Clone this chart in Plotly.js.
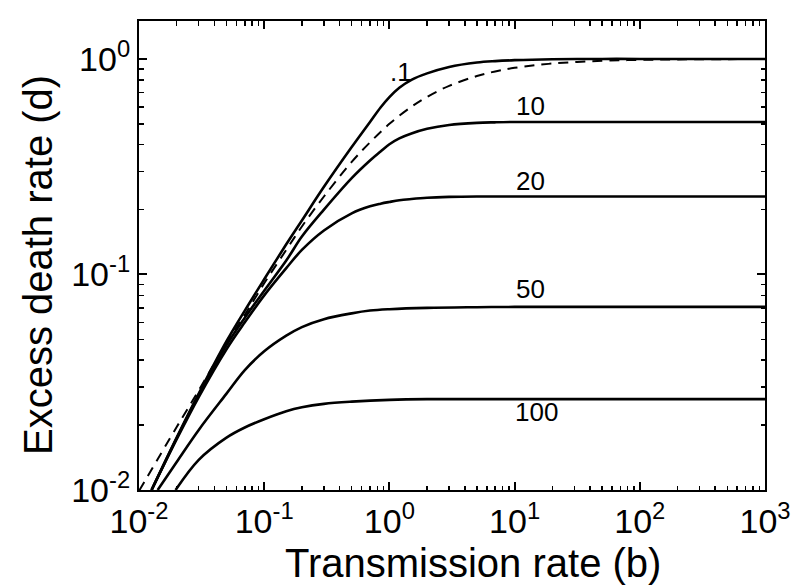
<!DOCTYPE html>
<html>
<head>
<meta charset="utf-8">
<script src="https://cdn.plot.ly/plotly-3.0.1.min.js"></script>
<style>html,body{margin:0;padding:0;background:#fff;}#chart{width:800px;height:588px;}</style>
</head>
<body>
<div id="chart"></div>
<script>
// Transmission rate b (x) and excess death rate d (y)
const bDashed = [0.01, 0.02, 0.03, 0.05, 0.07, 0.1, 0.15, 0.2, 0.3, 0.5, 0.7, 1, 1.5, 2, 3, 5, 7, 10, 20, 50, 100, 200, 1000];
const dDashed = [0.0099, 0.0196, 0.029, 0.048, 0.065, 0.091, 0.13, 0.167, 0.23, 0.333, 0.41, 0.5, 0.6, 0.667, 0.75, 0.833, 0.875, 0.909, 0.952, 0.98, 0.99, 0.995, 0.999];

const bSolid = [0.0126, 0.02, 0.03, 0.05, 0.07, 0.1, 0.15, 0.2, 0.3, 0.5, 0.7, 0.85, 1, 1.2, 1.5, 2, 3, 5, 7, 10, 20, 50, 100, 1000];
const dP01  = [0.01, 0.0175, 0.028, 0.049, 0.068, 0.095, 0.138, 0.178, 0.255, 0.39, 0.51, 0.595, 0.665, 0.735, 0.80, 0.857, 0.918, 0.962, 0.977, 0.987, 0.997, 1.0, 1.0, 1.0];
const dP10  = [0.01, 0.0174, 0.0277, 0.047, 0.063, 0.084, 0.116, 0.15, 0.2, 0.28, 0.338, 0.372, 0.402, 0.428, 0.451, 0.474, 0.494, 0.505, 0.508, 0.51, 0.51, 0.51, 0.51, 0.51];
const dP20  = [0.01, 0.0172, 0.027, 0.045, 0.06, 0.08, 0.107, 0.13, 0.16, 0.192, 0.207, 0.213, 0.217, 0.221, 0.224, 0.227, 0.229, 0.23, 0.23, 0.23, 0.23, 0.23, 0.23, 0.23];
const b50   = [0.0141, 0.02, 0.03, 0.05, 0.07, 0.1, 0.15, 0.2, 0.3, 0.5, 0.7, 1, 2, 5, 10, 100, 1000];
const dP50  = [0.01, 0.0135, 0.019, 0.028, 0.036, 0.044, 0.052, 0.057, 0.062, 0.066, 0.068, 0.069, 0.070, 0.0705, 0.0707, 0.0707, 0.0707];
const b100  = [0.0196, 0.03, 0.05, 0.07, 0.1, 0.15, 0.2, 0.3, 0.5, 1, 2, 10, 100, 1000];
const dP100 = [0.01, 0.0138, 0.0175, 0.0195, 0.0213, 0.0232, 0.0242, 0.0251, 0.0257, 0.0262, 0.0264, 0.0264, 0.0264, 0.0264];

const curveLabels = ['.1', '10', '20', '50', '100'];
const xTitle = 'Transmission rate (b)';
const yTitle = 'Excess death rate (d)';
const xTickVals = [0.01, 0.1, 1, 10, 100, 1000];
const xTickText = ['10<sup>-2</sup>', '10<sup>-1</sup>', '10<sup>0</sup>', '10<sup>1</sup>', '10<sup>2</sup>', '10<sup>3</sup>'];
const yTickVals = [0.01, 0.1, 1];
const yTickText = ['10<sup>-2</sup>', '10<sup>-1</sup>', '10<sup>0</sup>'];

function minorVals(lo, hi) {
  const v = [];
  for (let e = lo; e < hi; e++) for (let m = 2; m <= 9; m++) v.push(m * Math.pow(10, e));
  return v;
}

const solid = {color: '#000', width: 2.6, shape: 'spline'};
const traces = [
  {x: bDashed, y: dDashed, mode: 'lines', line: {color: '#000', width: 2, dash: '10px,7px', shape: 'spline'}},
  {x: bSolid, y: dP01, mode: 'lines', line: solid},
  {x: bSolid, y: dP10, mode: 'lines', line: solid},
  {x: bSolid, y: dP20, mode: 'lines', line: solid},
  {x: b50, y: dP50, mode: 'lines', line: solid},
  {x: b100, y: dP100, mode: 'lines', line: solid}
];

const font = {family: 'Liberation Sans, Arial, sans-serif', color: '#000'};
const labelPos = [[0.089, -0.0626], [1.129, -0.218], [1.129, -0.566], [1.129, -1.067], [1.176, -1.638]];
const annotations = curveLabels.map((t, i) => ({
  x: labelPos[i][0], y: labelPos[i][1], xref: 'x', yref: 'y', text: t, showarrow: false,
  font: Object.assign({}, font, {size: 26})
}));
annotations.push({x: 0.5335, y: -0.1557, xref: 'paper', yref: 'paper', text: xTitle, showarrow: false,
  xanchor: 'center', yanchor: 'middle', font: Object.assign({}, font, {size: 40})});
annotations.push({x: -0.1613, y: 0.4797, xref: 'paper', yref: 'paper', text: yTitle, showarrow: false,
  textangle: -90, xanchor: 'center', yanchor: 'middle', font: Object.assign({}, font, {size: 40})});

const axisCommon = {
  type: 'log', showline: true, linecolor: '#000', linewidth: 2, mirror: 'allticks',
  ticks: 'inside', ticklen: 8, tickwidth: 2, tickcolor: '#000', showgrid: false, zeroline: false,
  tickmode: 'array', tickfont: Object.assign({}, font, {size: 34})
};

const layout = {
  width: 800, height: 588, paper_bgcolor: '#fff', plot_bgcolor: '#fff', showlegend: false,
  margin: {l: 139, r: 35, t: 21, b: 98},
  xaxis: Object.assign({}, axisCommon, {
    range: [-2, 3], tickvals: xTickVals, ticktext: xTickText,
    minor: {tickmode: 'array', tickvals: minorVals(-2, 3), ticks: 'inside', ticklen: 4.5, tickwidth: 1.5, tickcolor: '#000'}
  }),
  yaxis: Object.assign({}, axisCommon, {
    range: [-2, 0.176], tickvals: yTickVals, ticktext: yTickText,
    minor: {tickmode: 'array', tickvals: minorVals(-2, 1), ticks: 'inside', ticklen: 4.5, tickwidth: 1.5, tickcolor: '#000'}
  }),
  annotations: annotations
};

Plotly.newPlot('chart', traces, layout, {displayModeBar: false, staticPlot: true});
</script>
</body>
</html>
